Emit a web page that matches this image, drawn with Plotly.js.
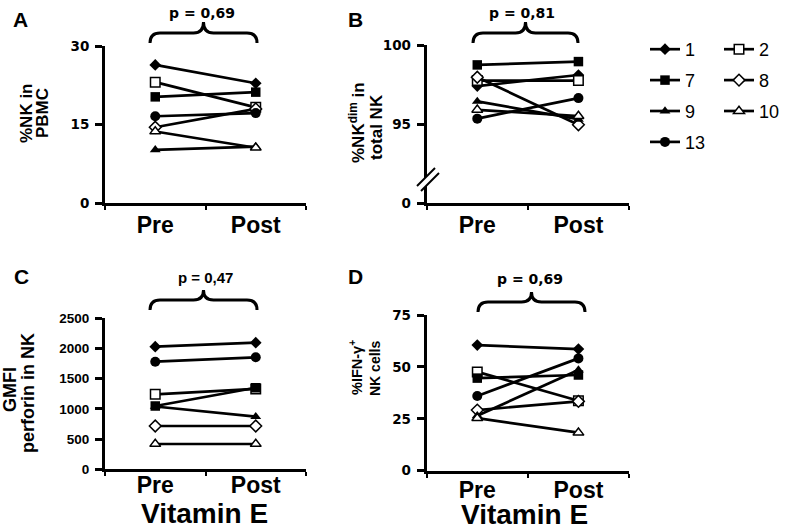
<!DOCTYPE html>
<html>
<head>
<meta charset="utf-8">
<script src="https://cdn.plot.ly/plotly-3.0.1.min.js"></script>
<style>html,body{margin:0;padding:0;background:#fff;}#chart{width:787px;height:528px;}</style>
</head>
<body>
<div id="chart"></div>
<script>
// ---- data ----
const categories = ['Pre', 'Post'];
const seriesNames = ['1', '2', '7', '8', '9', '10', '13'];
const xTitle = 'Vitamin E';
// Panel A: %NK in PBMC
const nkPBMC_pre  = [26.4, 23.1, 20.3, 14.5, 10.2, 13.7, 16.6];
const nkPBMC_post = [22.9, 18.3, 21.2, 18.0, 10.8, 10.6, 17.2];
// Panel B: %NKdim in total NK
const nkDim_pre  = [97.4, 97.75, 98.74, 97.96, 96.43, 95.9, 95.34];
const nkDim_post = [98.1, 97.75, 98.95, 94.95, 95.3, 95.5, 96.64];
// Panel C: GMFI perforin in NK
const perforin_pre  = [2030, 1242, 1048, 717, 1040, 419, 1782];
const perforin_post = [2096, 1330, 1350, 717, 871, 419, 1854];
// Panel D: %IFN-gamma+ NK cells
const ifng_pre  = [60.5, 47.6, 44.6, 29.2, 26.5, 25.3, 36.0];
const ifng_post = [58.6, 33.7, 46.1, 33.4, 48.5, 18.3, 54.1];
// axis ticks
const tickA = [0, 15, 30];
const tickB = [90, 95, 100];
const tickBText = ['0', '95', '100'];
const tickC = [0, 500, 1000, 1500, 2000, 2500];
const tickD = [0, 25, 50, 75];
const pValues = ['p = 0,69', 'p = 0,81', 'p = 0,47', 'p = 0,69'];

// ---- styles ----
const W = 787, H = 528;
const X = px => px / W;
const Y = py => 1 - py / H;
const symbols = ['diamond', 'square', 'square', 'diamond', 'triangle-up', 'triangle-up', 'circle'];
const filled  = [true, false, true, false, true, false, true];
const sizes   = [9, 9.5, 9.5, 9, 9.5, 9.5, 10];
const legendCol = ['legend', 'legend2', 'legend', 'legend2', 'legend', 'legend2', 'legend'];

const panels = [
  {pre: nkPBMC_pre, post: nkPBMC_post, xa: 'x', ya: 'y'},
  {pre: nkDim_pre, post: nkDim_post, xa: 'x2', ya: 'y2'},
  {pre: perforin_pre, post: perforin_post, xa: 'x3', ya: 'y3'},
  {pre: ifng_pre, post: ifng_post, xa: 'x4', ya: 'y4'}
];

const traces = [];
panels.forEach((p, pi) => {
  seriesNames.forEach((name, i) => {
    traces.push({
      type: 'scatter', mode: 'lines+markers',
      x: categories, y: [p.pre[i], p.post[i]],
      xaxis: p.xa, yaxis: p.ya,
      name: name, legendgroup: 's' + name, showlegend: pi === 0,
      legend: legendCol[i],
      line: {color: '#000', width: 2.7},
      marker: {symbol: symbols[i], size: sizes[i], color: filled[i] ? '#000' : '#fff',
               line: {color: '#000', width: filled[i] ? 0 : 1.5}},
      cliponaxis: false
    });
  });
});

const boldArial = (s) => ({family: 'Liberation Sans, Arial, sans-serif', size: s, color: '#000', weight: 'bold'});
const boldDeja = (s) => ({family: 'DejaVu Sans, sans-serif', size: s, color: '#000', weight: 'bold'});

function xAxis(l, r, anchor, standoff) {
  return {
    domain: [X(l), X(r)], anchor: anchor, type: 'category', range: [-0.5, 1.5],
    tickson: 'boundaries', ticks: 'outside', ticklen: 4, tickwidth: 2, tickcolor: '#000',
    showline: true, linewidth: 3, linecolor: '#000', showgrid: false, zeroline: false,
    tickfont: boldArial(23), ticklabelstandoff: standoff, fixedrange: true
  };
}
function yAxis(top, bottom, anchor, range, vals, text, font) {
  const ax = {
    domain: [Y(bottom), Y(top)], anchor: anchor, range: range,
    tickmode: 'array', tickvals: vals,
    ticks: 'outside', ticklen: 7, tickwidth: 3, tickcolor: '#000',
    showline: true, linewidth: 3, linecolor: '#000', showgrid: false, zeroline: false,
    tickfont: font, ticklabelstandoff: 3, fixedrange: true
  };
  if (text) ax.ticktext = text;
  return ax;
}

// braces (decorations, pixel geometry)
function bracePath(x1, x2, yEnd, yMid, yTip) {
  const xm = (x1 + x2) / 2, c = 10;
  const P = (x, y) => X(x).toFixed(5) + ',' + Y(y).toFixed(5);
  return 'M ' + P(x1, yEnd) + ' Q ' + P(x1, yMid) + ' ' + P(x1 + c, yMid) +
         ' L ' + P(xm - c, yMid) + ' Q ' + P(xm, yMid) + ' ' + P(xm, yTip) +
         ' Q ' + P(xm, yMid) + ' ' + P(xm + c, yMid) +
         ' L ' + P(x2 - c, yMid) + ' Q ' + P(x2, yMid) + ' ' + P(x2, yEnd);
}
function braceShape(x1, x2, yEnd, yMid, yTip) {
  return {type: 'path', xref: 'paper', yref: 'paper', path: bracePath(x1, x2, yEnd, yMid, yTip),
          line: {color: '#000', width: 3}, fillcolor: 'rgba(0,0,0,0)'};
}
const shapes = [
  braceShape(150, 257, 43, 33, 22),
  braceShape(473, 578, 43, 33, 22),
  braceShape(150, 257, 310, 300, 290),
  braceShape(478, 585, 312, 302, 292),
  // axis break on panel B
  {type: 'path', xref: 'paper', yref: 'paper',
   path: 'M ' + X(417) + ',' + Y(186) + ' L ' + X(435) + ',' + Y(168) + ' L ' + X(439) + ',' + Y(173) + ' L ' + X(421) + ',' + Y(191) + ' Z',
   fillcolor: '#fff', line: {width: 0}},
  {type: 'line', xref: 'paper', yref: 'paper', x0: X(417), y0: Y(186), x1: X(435), y1: Y(168), line: {color: '#000', width: 2}},
  {type: 'line', xref: 'paper', yref: 'paper', x0: X(421), y0: Y(191), x1: X(439), y1: Y(173), line: {color: '#000', width: 2}}
];

function ann(text, xpx, ypx, font, angle) {
  return {text: '<b>' + text + '</b>', xref: 'paper', yref: 'paper', x: X(xpx), y: Y(ypx), xanchor: 'center', yanchor: 'middle',
          showarrow: false, font: font, textangle: angle || 0};
}
const annotations = [
  ann('A', 20, 20, boldArial(21)), ann('B', 355, 20, boldArial(21)),
  ann('C', 21, 276, boldArial(21)), ann('D', 355, 276, boldArial(21)),
  ann(pValues[0], 202, 13, boldDeja(14)), ann(pValues[1], 522, 13, boldDeja(14)),
  ann(pValues[2], 205, 277, boldArial(15)), ann(pValues[3], 530, 279, boldDeja(14)),
  ann('%NK in', 27, 113, boldArial(17), -90), ann('PBMC', 43, 113, boldArial(17), -90),
  ann('%NK<sup>dim</sup> in', 357, 123, boldArial(17), -90), ann('total NK', 377, 127, boldArial(17), -90),
  ann('GMFI', 10, 390, boldArial(18), -90), ann('perforin in NK', 28, 393, boldArial(18), -90),
  ann('%IFN-γ<sup>+</sup>', 356, 368, boldArial(14.5), -90), ann('NK cells', 375, 369, boldArial(14), -90),
  ann(xTitle, 204.5, 513.5, boldArial(28)), ann(xTitle, 524, 514, boldArial(28))
];

const legendFont = {family: 'Liberation Sans, Arial, sans-serif', size: 18, color: '#000'};
const layout = {
  width: W, height: H, margin: {l: 0, r: 0, t: 0, b: 0},
  paper_bgcolor: '#fff', plot_bgcolor: '#fff',
  font: {family: 'Liberation Sans, Arial, sans-serif', color: '#000'},
  showlegend: true,
  legend: {x: X(645), y: Y(31), xanchor: 'left', yanchor: 'top', font: legendFont,
           tracegroupgap: 4.5, bgcolor: 'rgba(0,0,0,0)', traceorder: 'grouped'},
  legend2: {x: X(719), y: Y(31), xanchor: 'left', yanchor: 'top', font: legendFont,
            tracegroupgap: 4.5, bgcolor: 'rgba(0,0,0,0)', traceorder: 'grouped'},
  xaxis: xAxis(105, 306, 'y', -1),
  yaxis: yAxis(46, 203.3, 'x', [0, 30], tickA, null, boldDeja(13.5)),
  xaxis2: xAxis(426.7, 629, 'y2', -1),
  yaxis2: yAxis(45, 203, 'x2', [90, 100], tickB, tickBText, boldDeja(13.5)),
  xaxis3: xAxis(105, 306, 'y3', -7),
  yaxis3: yAxis(318.3, 469.3, 'x3', [0, 2500], tickC, null, boldArial(13.5)),
  xaxis4: xAxis(426.7, 629, 'y4', -3),
  yaxis4: yAxis(315, 470.7, 'x4', [0, 75], tickD, null, boldDeja(13.5)),
  shapes: shapes,
  annotations: annotations
};

Plotly.newPlot('chart', traces, layout, {displayModeBar: false});
</script>
</body>
</html>
